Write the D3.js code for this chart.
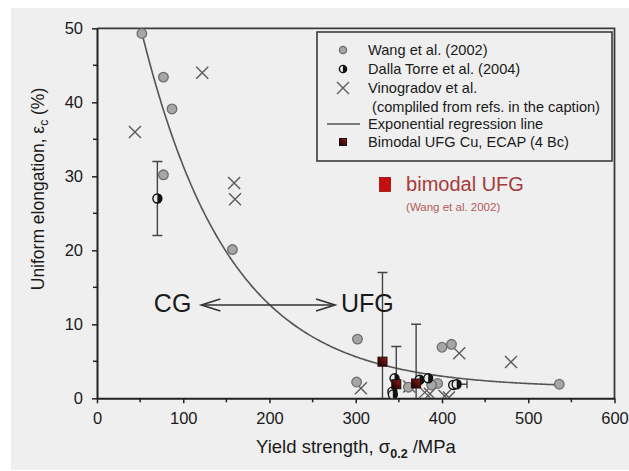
<!DOCTYPE html>
<html>
<head>
<meta charset="utf-8">
<script src="https://cdn.jsdelivr.net/npm/d3@7"></script>
<style>
  html, body { margin: 0; padding: 0; background: #ffffff; }
  svg text { font-family: "Liberation Sans", Arial, sans-serif; }
</style>
</head>
<body>
<svg id="chart" width="629" height="471"></svg>
<script>
// ---- data ----
const xTicks = [0, 100, 200, 300, 400, 500, 600];
const yTicks = [0, 10, 20, 30, 40, 50];

// Wang et al. (2002)
const wangX = [52, 77, 87, 77, 157, 302, 301, 400, 411, 536, 395, 361, 388];
const wangY = [49.3, 43.4, 39.1, 30.2, 20.1, 8.0, 2.2, 6.9, 7.3, 1.9, 2.0, 1.5, 1.8];

// Dalla Torre et al. (2004)
const dallaX = [70, 345, 342.5, 374, 384, 413, 417, 343];
const dallaY = [27.0, 2.7, 0.9, 2.5, 2.7, 1.8, 1.9, 0.5];
const dallaYErrLo = [22, null, null, null, null, null, null, null];
const dallaYErrHi = [32, null, null, null, null, null, null, null];
const dallaXErrLo = [67, null, null, null, null, null, null, null];
const dallaXErrHi = [73, null, null, null, null, null, 429, null];

// Vinogradov et al.
const vinoX = [44, 122, 159, 160, 306, 420, 480, 380, 362, 403, 408, 386];
const vinoY = [36, 44, 29.1, 26.9, 1.35, 6.1, 4.9, 0.8, 1.6, 0.3, 0.1, 0.6];

// Bimodal UFG Cu, ECAP (4 Bc)
const ecapX = [331, 347, 370];
const ecapY = [4.95, 1.9, 2.0];
const ecapErrHi = [17, 7, 10];
const ecapErrLo = [0, 0, 0];

// bimodal UFG (Wang et al. 2002)
const bimodalX = [334];
const bimodalY = [28.9];

// exponential regression line  y = y0 + a * exp(-b * x)
const regY0 = 1.4, regA = 79.9, regB = 0.0098;
const regRange = [51, 537];

// CG <-> UFG arrow
const arrowX = [121, 276];
const arrowY = 12.6;

// ---- layout ----
const svg = d3.select("#chart");
const x = d3.scaleLinear().domain([0, 600]).range([97, 614.5]);
const y = d3.scaleLinear().domain([0, 50]).range([398.3, 28.3]);

svg.append("rect").attr("x", 11).attr("y", 8).attr("width", 618).attr("height", 462).attr("fill", "#efefef");

const defs = svg.append("defs");
const grad = defs.append("linearGradient").attr("id", "ecapFill")
  .attr("x1", "0%").attr("y1", "100%").attr("x2", "100%").attr("y2", "0%");
grad.append("stop").attr("offset", "0%").attr("stop-color", "#0d0000");
grad.append("stop").attr("offset", "100%").attr("stop-color", "#9a1a1a");

defs.append("clipPath").attr("id", "plotClip").append("rect")
  .attr("x", x(0)).attr("y", y(50)).attr("width", x(600) - x(0)).attr("height", y(0) - y(50));

// frame (top and right)
svg.append("path")
  .attr("d", `M${x(0)},${y(50)}H${x(600)}V${y(0)}`)
  .attr("fill", "none").attr("stroke", "#3a3a3a").attr("stroke-width", 1.8);

// axes
const xAxis = svg.append("g").attr("transform", `translate(0,${y(0)})`)
  .call(d3.axisBottom(x).tickValues(xTicks).tickSize(5).tickPadding(9).tickSizeOuter(0));
const yAxis = svg.append("g").attr("transform", `translate(${x(0)},0)`)
  .call(d3.axisLeft(y).tickValues(yTicks).tickSize(5).tickPadding(9).tickSizeOuter(0));
[xAxis, yAxis].forEach(g => {
  g.select(".domain").attr("stroke", "#222").attr("stroke-width", 2);
  g.selectAll(".tick line").attr("stroke", "#222").attr("stroke-width", 1.5);
  g.selectAll(".tick text").attr("font-size", 16.5).attr("fill", "#1a1a1a")
    .attr("font-family", "'Liberation Sans', Arial, sans-serif");
});
// minor ticks
svg.append("g").selectAll("line").data(d3.range(50, 600, 100)).join("line")
  .attr("x1", d => x(d)).attr("x2", d => x(d)).attr("y1", y(0)).attr("y2", y(0) + 4)
  .attr("stroke", "#222").attr("stroke-width", 1.5);
svg.append("g").selectAll("line").data(d3.range(5, 50, 10)).join("line")
  .attr("x1", x(0) - 4).attr("x2", x(0)).attr("y1", d => y(d)).attr("y2", d => y(d))
  .attr("stroke", "#222").attr("stroke-width", 1.5);

// axis titles
const yTitle = svg.append("text")
  .attr("transform", `translate(44,189) rotate(-90)`)
  .attr("text-anchor", "middle").attr("font-size", 17.5).attr("fill", "#1a1a1a");
yTitle.append("tspan").text("Uniform elongation, ε");
yTitle.append("tspan").attr("font-size", 12).attr("dy", 4).text("c");
yTitle.append("tspan").attr("dy", -4).text(" (%)");

const xTitle = svg.append("text")
  .attr("x", 356).attr("y", 453)
  .attr("text-anchor", "middle").attr("font-size", 18.5).attr("fill", "#1a1a1a");
xTitle.append("tspan").text("Yield strength, σ");
xTitle.append("tspan").attr("font-size", 12.5).attr("font-weight", "bold").attr("dy", 5).text("0.2");
xTitle.append("tspan").attr("dy", -5).text(" /MPa");

const plot = svg.append("g").attr("clip-path", "url(#plotClip)");

// regression curve
const curveData = d3.range(regRange[0], regRange[1] + 0.1, 2).map(v => [v, regY0 + regA * Math.exp(-regB * v)]);
plot.append("path")
  .datum(curveData)
  .attr("d", d3.line().x(d => x(d[0])).y(d => y(d[1])).curve(d3.curveBasis))
  .attr("fill", "none").attr("stroke", "#555").attr("stroke-width", 1.6);

// CG <-> UFG arrow
const ax0 = x(arrowX[0]), ax1 = x(arrowX[1]), ay = y(arrowY);
const arrow = svg.append("g").attr("stroke", "#333").attr("stroke-width", 1.6).attr("fill", "none");
arrow.append("line").attr("x1", ax0).attr("x2", ax1).attr("y1", ay).attr("y2", ay);
arrow.append("path").attr("d", `M${ax0 + 19},${ay - 6}L${ax0},${ay}L${ax0 + 19},${ay + 6}`);
arrow.append("path").attr("d", `M${ax1 - 19},${ay - 6}L${ax1},${ay}L${ax1 - 19},${ay + 6}`);
svg.append("text").attr("x", ax0 - 10).attr("y", ay + 7).attr("text-anchor", "end")
  .attr("font-size", 25).attr("fill", "#1a1a1a").text("CG");
svg.append("text").attr("x", ax1 + 6).attr("y", ay + 7)
  .attr("font-size", 25).attr("fill", "#1a1a1a").text("UFG");

// error bars
const eb = plot.append("g").attr("stroke", "#444").attr("stroke-width", 1.4);
ecapX.forEach((v, i) => {
  eb.append("line").attr("x1", x(v)).attr("x2", x(v)).attr("y1", y(ecapErrLo[i])).attr("y2", y(ecapErrHi[i]));
  eb.append("line").attr("x1", x(v) - 5).attr("x2", x(v) + 5).attr("y1", y(ecapErrHi[i])).attr("y2", y(ecapErrHi[i]));
});
dallaX.forEach((v, i) => {
  if (dallaYErrLo[i] != null) {
    eb.append("line").attr("x1", x(v)).attr("x2", x(v)).attr("y1", y(dallaYErrLo[i])).attr("y2", y(dallaYErrHi[i]));
    [dallaYErrLo[i], dallaYErrHi[i]].forEach(e =>
      eb.append("line").attr("x1", x(v) - 5).attr("x2", x(v) + 5).attr("y1", y(e)).attr("y2", y(e)));
  }
  if (dallaXErrHi[i] != null) {
    const lo = dallaXErrLo[i] != null ? dallaXErrLo[i] : v;
    eb.append("line").attr("x1", x(lo)).attr("x2", x(dallaXErrHi[i])).attr("y1", y(dallaY[i])).attr("y2", y(dallaY[i]));
    eb.append("line").attr("x1", x(dallaXErrHi[i])).attr("x2", x(dallaXErrHi[i])).attr("y1", y(dallaY[i]) - 4).attr("y2", y(dallaY[i]) + 4);
    if (dallaXErrLo[i] != null)
      eb.append("line").attr("x1", x(lo)).attr("x2", x(lo)).attr("y1", y(dallaY[i]) - 4).attr("y2", y(dallaY[i]) + 4);
  }
});

// marker helpers
function cross(g, cx, cy, s) {
  g.append("path").attr("d", `M${cx - s},${cy - s}L${cx + s},${cy + s}M${cx - s},${cy + s}L${cx + s},${cy - s}`)
    .attr("stroke", "#5a5a5a").attr("stroke-width", 1.4).attr("fill", "none");
}
function grayDot(g, cx, cy, r) {
  g.append("circle").attr("cx", cx).attr("cy", cy).attr("r", r)
    .attr("fill", "#a6a6a6").attr("stroke", "#6e6e6e").attr("stroke-width", 1.3);
}
function halfDot(g, cx, cy, r) {
  g.append("circle").attr("cx", cx).attr("cy", cy).attr("r", r).attr("fill", "#e8e8e8")
    .attr("stroke", "#111").attr("stroke-width", 1.4);
  g.append("path").attr("d", `M${cx},${cy - r}A${r},${r} 0 0 1 ${cx},${cy + r}Z`).attr("fill", "#111");
}
function ecapSquare(g, cx, cy, s) {
  g.append("rect").attr("x", cx - s / 2).attr("y", cy - s / 2).attr("width", s).attr("height", s)
    .attr("fill", "url(#ecapFill)").attr("stroke", "#1a0a0a").attr("stroke-width", 1);
}

const marks = plot.append("g");
vinoX.forEach((v, i) => cross(marks, x(v), y(vinoY[i]), 6));
wangX.forEach((v, i) => grayDot(marks, x(v), y(wangY[i]), 4.8));
dallaX.forEach((v, i) => halfDot(marks, x(v), y(dallaY[i]), 4.5));
ecapX.forEach((v, i) => ecapSquare(marks, x(v), y(ecapY[i]), 9));

// bimodal UFG point with its label
bimodalX.forEach((v, i) => {
  marks.append("rect").attr("x", x(v) - 5.5).attr("y", y(bimodalY[i]) - 7).attr("width", 11).attr("height", 14)
    .attr("fill", "#c40f0f").attr("stroke", "#9a0a0a").attr("stroke-width", 0.8);
  svg.append("text").attr("x", x(v) + 21).attr("y", y(bimodalY[i]) + 7)
    .attr("font-size", 20).attr("fill", "#a83a3a").text("bimodal UFG");
  svg.append("text").attr("x", x(v) + 21).attr("y", y(bimodalY[i]) + 27)
    .attr("font-size", 11.5).attr("fill", "#b45a5a").text("(Wang et al. 2002)");
});

// legend
const lg = svg.append("g");
lg.append("rect").attr("x", 317).attr("y", 32).attr("width", 295).attr("height", 129)
  .attr("fill", "#efefef").attr("stroke", "#3a3a3a").attr("stroke-width", 1.6);
const legendRows = [
  { y: 50, label: "Wang et al. (2002)", kind: "wang" },
  { y: 69, label: "Dalla Torre et al. (2004)", kind: "dalla" },
  { y: 88, label: "Vinogradov et al.", kind: "vino" },
  { y: 107, label: " (compliled from refs. in the caption)", kind: null },
  { y: 124, label: "Exponential regression line", kind: "line" },
  { y: 142, label: "Bimodal UFG Cu, ECAP (4 Bc)", kind: "ecap" }
];
legendRows.forEach(r => {
  const mx = 343;
  if (r.kind === "wang") grayDot(lg, mx, r.y, 3.6);
  if (r.kind === "dalla") halfDot(lg, mx, r.y, 3.6);
  if (r.kind === "vino") cross(lg, mx, r.y, 6);
  if (r.kind === "line") lg.append("line").attr("x1", 327).attr("x2", 360).attr("y1", r.y).attr("y2", r.y)
    .attr("stroke", "#555").attr("stroke-width", 1.6);
  if (r.kind === "ecap") ecapSquare(lg, mx, r.y, 7);
  lg.append("text").attr("x", 368).attr("y", r.y + 5).attr("font-size", 14.6).attr("fill", "#1a1a1a")
    .attr("xml:space", "preserve").text(r.label);
});
</script>
</body>
</html>
